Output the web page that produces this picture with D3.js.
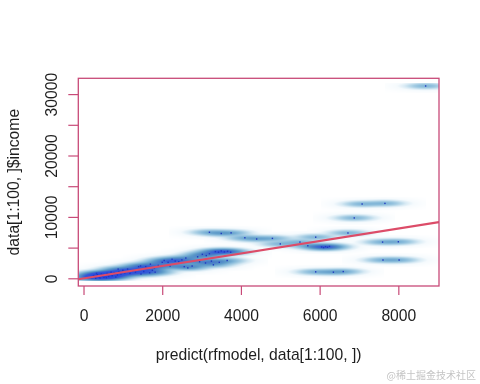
<!DOCTYPE html>
<html>
<head>
<meta charset="utf-8">
<script src="https://cdn.jsdelivr.net/npm/d3@7"></script>
<style>
  body { margin: 0; background: #fff; }
  #wrap { position: relative; width: 480px; height: 384px; }
  #wrap canvas, #wrap svg { position: absolute; left: 0; top: 0; }
</style>
</head>
<body>
<div id="wrap"></div>
<script>
// predict(rfmodel, data[1:100, ]) -- x values
const predicted = [
  207, 260, 310, 350, 400, 450, 480, 520, 560, 600, 640, 690, 730, 780, 820, 860,
  900, 950, 1000, 1050, 1120, 1180, 1250, 1320, 1400, 1460, 1530, 1600, 1680, 1750, 1820,
  1450, 1580, 1700, 1800, 1900, 2000,
  2050, 2150, 2250, 2330, 2420, 2500,
  2560, 2650, 2760,
  3020, 3120, 3200,
  3350, 3430, 3500, 3580, 3660, 3740,
  2950, 3100, 3250, 3450, 3650,
  3200, 3500, 3750,
  4100, 4400, 4800,
  5000, 5500, 5700, 5900, 6050, 6100, 6150, 6200, 6250,
  5900, 6350, 6600,
  7080, 7660,
  6880,
  6720,
  7600, 8000,
  7610, 8020,
  8694,
  240, 300, 330, 420, 500, 580, 700, 880, 1400, 2200, 2600, 2900, 3300
];
// data[1:100, ]$income -- y values
const income = [
  120, 450, 0, 600, 250, 700, 380, 150, 520, 800, 300, 650, 420, 900, 200, 550,
  1100, 700, 1300, 900, 1500, 800, 1200, 1000, 1400, 700, 1100, 1600, 900, 1300, 1000,
  2000, 1900, 2300, 1700, 2100, 2600,
  2900, 2600, 3100, 2800, 2700, 3000,
  1900, 1700, 2000,
  3900, 3700, 4000,
  4350, 4250, 4450, 4300, 4400, 4250,
  2700, 2500, 2800, 2600, 2900,
  7500, 7300, 7400,
  6600, 6400, 6500,
  5600, 5900, 5300, 6700, 5100, 5000, 5150, 5050, 5200,
  1050, 1000, 1100,
  12100, 12200,
  9830,
  7380,
  5900, 5950,
  2980, 2980,
  31320,
  300, 200, 800, 50, 600, 100, 1000, 1500, 1900, 2000, 3300, 3500, 2200
];

const xTicks = [0, 2000, 4000, 6000, 8000];
const yTicks = [0, 5000, 10000, 15000, 20000, 25000, 30000];
const yTickLabels = [0, 10000, 20000, 30000];
const fitCoef = [-25, 1.017];      // abline(lm(...)): intercept, slope
const bandwidth = [260, 270];     // smoothing kernel, x and y

const width = 480, height = 384;
const plot = { left: 78.3, right: 439, top: 78.3, bottom: 286 };
const boxColor = '#c84a78';
const fitColor = '#dc4c68';
const textColor = '#1e1e1e';
const font = '"Liberation Sans", Arial, sans-serif';

// R style 4% padding around the data range
const pad = ext => {
  const r = ext[1] - ext[0];
  return [ext[0] - 0.04 * r, ext[1] + 0.04 * r];
};
const xExt = d3.extent(predicted);
const yExt = d3.extent(income);

const x = d3.scaleLinear().domain(pad(xExt)).range([plot.left, plot.right]);
const y = d3.scaleLinear().domain(pad(yExt)).range([plot.bottom, plot.top]);

const colramp = d3.scaleLinear()
  .domain([0, 0.2, 0.32, 0.43, 0.54, 0.63, 0.71, 0.8, 1])
  .range(['#ffffff', '#f5fafd', '#d8eaf4', '#aed2e6', '#84b8d9', '#5f9cc9', '#4a80c8', '#3258d8', '#2242e4'])
  .clamp(true);

const wrap = d3.select('#wrap');

// smoothed density image
const canvas = wrap.append('canvas').attr('width', width).attr('height', height);
const ctx = canvas.node().getContext('2d');
ctx.fillStyle = '#fff';
ctx.fillRect(0, 0, width, height);

const [bx, by] = bandwidth;
const gx0 = Math.max(Math.ceil(plot.left), Math.floor(x(xExt[0] - 1.5 * bx)));
const gx1 = Math.min(Math.floor(plot.right), Math.ceil(x(xExt[1] + 1.5 * bx)));
const gy0 = Math.max(Math.ceil(plot.top), Math.floor(y(yExt[1] + 1.5 * by)));
const gy1 = Math.min(Math.floor(plot.bottom), Math.ceil(y(yExt[0] - 1.5 * by)));
const gw = gx1 - gx0, gh = gy1 - gy0;
const dens = new Float64Array(gw * gh);
let dmax = 0;
for (let j = 0; j < gh; j++) {
  const dy = y.invert(gy0 + j + 0.5);
  for (let i = 0; i < gw; i++) {
    const dx = x.invert(gx0 + i + 0.5);
    let s = 0;
    for (let k = 0; k < predicted.length; k++) {
      const u = (dx - predicted[k]) / bx;
      if (u > 4 || u < -4) continue;
      const v = (dy - income[k]) / by;
      if (v > 4 || v < -4) continue;
      s += Math.exp(-0.5 * (u * u + v * v));
    }
    dens[j * gw + i] = s;
    if (s > dmax) dmax = s;
  }
}
const img = ctx.getImageData(gx0, gy0, gw, gh);
for (let n = 0; n < dens.length; n++) {
  const t = Math.pow(dens[n] / dmax, 0.25);
  const c = d3.rgb(colramp(t));
  img.data[n * 4] = c.r;
  img.data[n * 4 + 1] = c.g;
  img.data[n * 4 + 2] = c.b;
  img.data[n * 4 + 3] = 255;
}
ctx.putImageData(img, gx0, gy0);

const svg = wrap.append('svg').attr('width', width).attr('height', height);

svg.append('clipPath').attr('id', 'clip')
  .append('rect')
  .attr('x', plot.left).attr('y', plot.top)
  .attr('width', plot.right - plot.left)
  .attr('height', plot.bottom - plot.top);

// the points themselves
svg.append('g')
  .selectAll('rect')
  .data(predicted)
  .enter()
  .append('rect')
  .attr('x', d => x(d) - 0.7)
  .attr('y', (d, i) => y(income[i]) - 0.7)
  .attr('width', 1.4)
  .attr('height', 1.4)
  .attr('fill', '#2038c0');

// regression line
const xd = x.domain();
svg.append('line')
  .attr('clip-path', 'url(#clip)')
  .attr('x1', x(xd[0])).attr('y1', y(fitCoef[0] + fitCoef[1] * xd[0]))
  .attr('x2', x(xd[1])).attr('y2', y(fitCoef[0] + fitCoef[1] * xd[1]))
  .attr('stroke', fitColor)
  .attr('stroke-width', 2.2);

// axes
const xG = svg.append('g')
  .attr('transform', `translate(0, ${plot.bottom})`)
  .call(d3.axisBottom(x).tickValues(xTicks).tickSize(9).tickSizeOuter(0)
    .tickFormat(d3.format('d')));
xG.select('.domain').remove();
xG.selectAll('line').attr('stroke', boxColor).attr('stroke-width', 1.2);
xG.selectAll('text')
  .attr('y', 34.5)
  .attr('dy', 0)
  .style('font-family', font)
  .style('font-size', '15.7px')
  .attr('fill', textColor);

const yG = svg.append('g')
  .attr('transform', `translate(${plot.left}, 0)`)
  .call(d3.axisLeft(y).tickValues(yTicks).tickSize(10).tickSizeOuter(0)
    .tickFormat(d => (yTickLabels.includes(d) ? d3.format('d')(d) : '')));
yG.select('.domain').remove();
yG.selectAll('line').attr('stroke', boxColor).attr('stroke-width', 1.2);
yG.selectAll('text')
  .attr('transform', 'rotate(-90)')
  .attr('x', 0)
  .attr('y', -21.6)
  .attr('dy', 0)
  .style('text-anchor', 'middle')
  .style('font-family', font)
  .style('font-size', '15.7px')
  .attr('fill', textColor);

// box
svg.append('rect')
  .attr('x', plot.left).attr('y', plot.top)
  .attr('width', plot.right - plot.left)
  .attr('height', plot.bottom - plot.top)
  .attr('fill', 'none')
  .attr('stroke', boxColor)
  .attr('stroke-width', 1.3);

// axis titles
svg.append('text')
  .attr('x', (plot.left + plot.right) / 2)
  .attr('y', 360)
  .style('text-anchor', 'middle')
  .style('font-family', font)
  .style('font-size', '15.7px')
  .attr('fill', textColor)
  .text('predict(rfmodel, data[1:100, ])');

svg.append('text')
  .attr('transform', `translate(18.8, ${(plot.top + plot.bottom) / 2}) rotate(-90)`)
  .style('text-anchor', 'middle')
  .style('font-family', font)
  .style('font-size', '15.7px')
  .attr('fill', textColor)
  .text('data[1:100, ]$income');

// watermark
svg.append('text')
  .attr('x', 476)
  .attr('y', 379)
  .style('text-anchor', 'end')
  .style('font-family', '"Noto Sans CJK SC", sans-serif')
  .style('font-size', '10px')
  .attr('fill', '#c4c4c4')
  .text('@稀土掘金技术社区');
</script>
</body>
</html>
